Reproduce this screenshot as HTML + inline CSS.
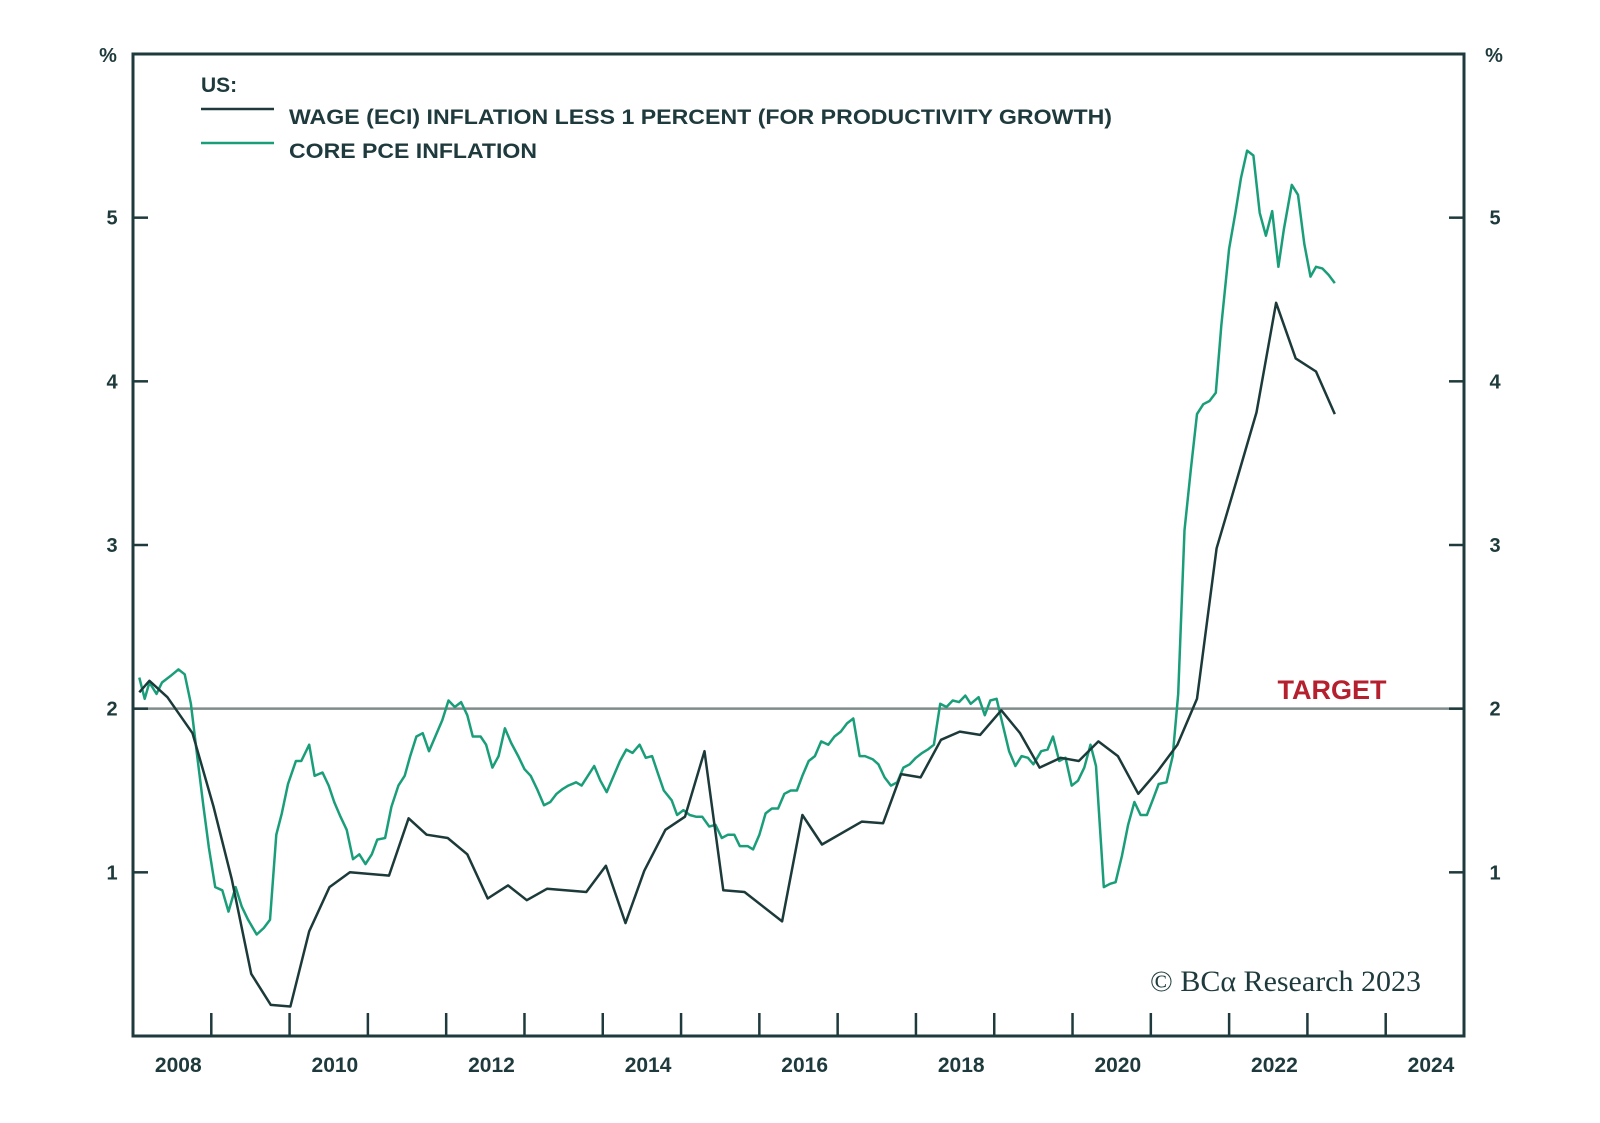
<!DOCTYPE html>
<html><head><meta charset="utf-8"><style>
html,body{margin:0;padding:0;background:#fff;}
svg{display:block;font-family:"Liberation Sans",sans-serif;}
</style></head><body>
<svg id="chart" width="1600" height="1123" viewBox="0 0 1600 1123">
<g id="grid"></g>
<g id="series"></g>
<g id="axes"></g>
<g id="legend">
  <text x="201" y="92" font-size="21" font-weight="bold" fill="#1e3a3c">US:</text>
  <line x1="201" y1="109" x2="274" y2="109" stroke="#1e3a3c" stroke-width="2.5"/>
  <text x="289" y="124" font-size="21" font-weight="bold" fill="#1e3a3c" textLength="823" lengthAdjust="spacingAndGlyphs">WAGE (ECI) INFLATION LESS 1 PERCENT (FOR PRODUCTIVITY GROWTH)</text>
  <line x1="201" y1="143" x2="274" y2="143" stroke="#1a9e7a" stroke-width="2.5"/>
  <text x="289" y="158" font-size="21" font-weight="bold" fill="#1e3a3c" textLength="248" lengthAdjust="spacingAndGlyphs">CORE PCE INFLATION</text>
</g>
<text x="1332" y="699" font-size="27" font-weight="bold" fill="#b5202e" text-anchor="middle">TARGET</text>
<text x="1421" y="991" font-size="30" fill="#1e3a3c" text-anchor="end" font-family="Liberation Serif, serif">© BCα Research 2023</text>
<text x="108" y="62" font-size="20" font-weight="bold" fill="#1e3a3c" text-anchor="middle">%</text>
<text x="1494" y="62" font-size="20" font-weight="bold" fill="#1e3a3c" text-anchor="middle">%</text>
</svg>
<script>
const yTicks = [1, 2, 3, 4, 5];
const xTickYears = [2008,2009,2010,2011,2012,2013,2014,2015,2016,2017,2018,2019,2020,2021,2022,2023];
const xLabelYears = [2008,2010,2012,2014,2016,2018,2020,2022,2024];
const targetValue = 2;

const wageYears = [2007.08,2007.21,2007.44,2007.76,2008.03,2008.26,2008.51,2008.76,2009.01,2009.25,2009.51,2009.77,2010.27,2010.52,2010.75,2011.02,2011.27,2011.53,2011.79,2012.03,2012.29,2012.79,2013.04,2013.29,2013.53,2013.80,2014.05,2014.30,2014.54,2014.81,2015.29,2015.55,2015.80,2016.31,2016.58,2016.81,2017.06,2017.32,2017.56,2017.82,2018.09,2018.33,2018.58,2018.85,2019.08,2019.33,2019.58,2019.84,2020.09,2020.34,2020.59,2020.84,2021.10,2021.35,2021.60,2021.85,2022.11,2022.35];
const wageValues = [2.1,2.17,2.07,1.85,1.4,0.96,0.38,0.19,0.18,0.64,0.91,1.0,0.98,1.33,1.23,1.21,1.11,0.84,0.92,0.83,0.9,0.88,1.04,0.69,1.01,1.26,1.34,1.74,0.89,0.88,0.7,1.35,1.17,1.31,1.3,1.6,1.58,1.81,1.86,1.84,1.99,1.85,1.64,1.7,1.68,1.8,1.71,1.48,1.62,1.78,2.06,2.98,3.4,3.81,4.48,4.14,4.06,3.8];

const pceYears = [2007.08,2007.15,2007.21,2007.30,2007.37,2007.48,2007.58,2007.66,2007.74,2007.82,2007.90,2007.97,2008.05,2008.14,2008.22,2008.31,2008.39,2008.47,2008.58,2008.67,2008.75,2008.83,2008.90,2008.98,2009.08,2009.15,2009.25,2009.32,2009.42,2009.50,2009.57,2009.65,2009.73,2009.81,2009.89,2009.97,2010.05,2010.12,2010.22,2010.30,2010.39,2010.47,2010.54,2010.62,2010.70,2010.78,2010.87,2010.95,2011.03,2011.11,2011.19,2011.27,2011.34,2011.44,2011.51,2011.59,2011.67,2011.75,2011.83,2011.92,2012.00,2012.08,2012.16,2012.25,2012.33,2012.41,2012.49,2012.56,2012.66,2012.73,2012.81,2012.89,2012.97,2013.05,2013.14,2013.22,2013.30,2013.38,2013.47,2013.55,2013.63,2013.70,2013.78,2013.88,2013.95,2014.03,2014.11,2014.19,2014.27,2014.36,2014.44,2014.52,2014.60,2014.68,2014.75,2014.85,2014.92,2015.00,2015.08,2015.16,2015.24,2015.32,2015.40,2015.48,2015.55,2015.63,2015.71,2015.79,2015.88,2015.96,2016.04,2016.12,2016.20,2016.28,2016.35,2016.45,2016.52,2016.60,2016.68,2016.76,2016.84,2016.92,2017.00,2017.08,2017.15,2017.23,2017.31,2017.39,2017.47,2017.55,2017.63,2017.70,2017.80,2017.88,2017.95,2018.03,2018.11,2018.19,2018.27,2018.35,2018.43,2018.50,2018.60,2018.68,2018.75,2018.83,2018.91,2018.99,2019.07,2019.15,2019.23,2019.30,2019.40,2019.48,2019.55,2019.63,2019.71,2019.79,2019.87,2019.95,2020.03,2020.10,2020.20,2020.28,2020.35,2020.43,2020.51,2020.59,2020.67,2020.75,2020.83,2020.90,2021.00,2021.08,2021.15,2021.23,2021.31,2021.39,2021.47,2021.55,2021.63,2021.70,2021.80,2021.88,2021.96,2022.04,2022.11,2022.19,2022.27,2022.35];
const pceValues = [2.19,2.06,2.16,2.09,2.16,2.2,2.24,2.21,2.03,1.71,1.4,1.15,0.91,0.89,0.76,0.91,0.79,0.71,0.62,0.66,0.71,1.23,1.36,1.54,1.68,1.68,1.78,1.59,1.61,1.53,1.43,1.34,1.26,1.08,1.11,1.05,1.11,1.2,1.21,1.4,1.53,1.59,1.71,1.83,1.85,1.74,1.84,1.93,2.05,2.01,2.04,1.96,1.83,1.83,1.78,1.64,1.71,1.88,1.79,1.71,1.63,1.59,1.51,1.41,1.43,1.48,1.51,1.53,1.55,1.53,1.59,1.65,1.56,1.49,1.59,1.68,1.75,1.73,1.78,1.7,1.71,1.61,1.5,1.44,1.35,1.38,1.35,1.34,1.34,1.28,1.29,1.21,1.23,1.23,1.16,1.16,1.14,1.23,1.36,1.39,1.39,1.48,1.5,1.5,1.59,1.68,1.71,1.8,1.78,1.83,1.86,1.91,1.94,1.71,1.71,1.69,1.66,1.58,1.53,1.55,1.64,1.66,1.7,1.73,1.75,1.78,2.03,2.01,2.05,2.04,2.08,2.03,2.07,1.96,2.05,2.06,1.9,1.74,1.65,1.71,1.7,1.66,1.74,1.75,1.83,1.68,1.7,1.53,1.56,1.64,1.78,1.65,0.91,0.93,0.94,1.1,1.29,1.43,1.35,1.35,1.45,1.54,1.55,1.71,2.09,3.09,3.46,3.8,3.86,3.88,3.93,4.34,4.81,5.03,5.24,5.41,5.38,5.03,4.89,5.04,4.7,4.93,5.2,5.14,4.84,4.64,4.7,4.69,4.65,4.6];

const X0 = 133, X1 = 1464, Y0 = 1036, Y1 = 54;
const xS = t => X0 + (t - 2007) * (X1 - X0) / 17;
const yS = v => Y0 - v * (Y0 - Y1) / 6;
const NS = "http://www.w3.org/2000/svg";
const INK = "#1e3a3c";

function mk(tag, attrs, parent) {
  const el = document.createElementNS(NS, tag);
  for (const k in attrs) el.setAttribute(k, attrs[k]);
  parent.appendChild(el);
  return el;
}
const axes = document.getElementById('axes');
const grid = document.getElementById('grid');
const series = document.getElementById('series');

const tl = mk('line', {x1: X0, x2: X1, y1: yS(targetValue), y2: yS(targetValue), stroke: '#7f8c8a', 'stroke-width': 2.5}, grid);



const fr = mk('rect', {x: X0, y: Y1, width: X1 - X0, height: Y0 - Y1, fill: 'none', stroke: INK, 'stroke-width': 3}, axes);



yTicks.forEach(v => {
  const y = yS(v);
  const t1 = mk('line', {x1: X0, x2: X0 + 15, y1: y, y2: y, stroke: INK, 'stroke-width': 2.5}, axes);
  
  
  const t2 = mk('line', {x1: X1 - 15, x2: X1, y1: y, y2: y, stroke: INK, 'stroke-width': 2.5}, axes);
  
  
  const l1 = mk('text', {x: 112, y: y + 7, 'font-size': 20, 'font-weight': 'bold', fill: INK, 'text-anchor': 'middle'}, axes);
  l1.textContent = v;
  
  
  const l2 = mk('text', {x: 1495, y: y + 7, 'font-size': 20, 'font-weight': 'bold', fill: INK, 'text-anchor': 'middle'}, axes);
  l2.textContent = v;
  
  
});

xTickYears.forEach(yr => {
  const x = xS(yr);
  const t = mk('line', {x1: x, x2: x, y1: Y0, y2: Y0 - 23, stroke: INK, 'stroke-width': 2.5}, axes);
  
  
});
xLabelYears.forEach(yr => {
  const l = mk('text', {x: xS(yr) - 33, y: 1072, 'font-size': 21, 'font-weight': 'bold', fill: INK, 'text-anchor': 'middle'}, axes);
  l.textContent = yr;
  
  
});

function pathD(xs, vs) {
  return xs.map((t, i) => (i ? 'L' : 'M') + xS(t).toFixed(1) + ',' + yS(vs[i]).toFixed(1)).join(' ');
}
const pce = mk('path', {d: pathD(pceYears, pceValues), fill: 'none', stroke: '#1a9e7a', 'stroke-width': 2.5, 'stroke-linejoin': 'round'}, series);


const wage = mk('path', {d: pathD(wageYears, wageValues), fill: 'none', stroke: '#1c3a3a', 'stroke-width': 2.5, 'stroke-linejoin': 'round'}, series);


</script>
</body></html>
